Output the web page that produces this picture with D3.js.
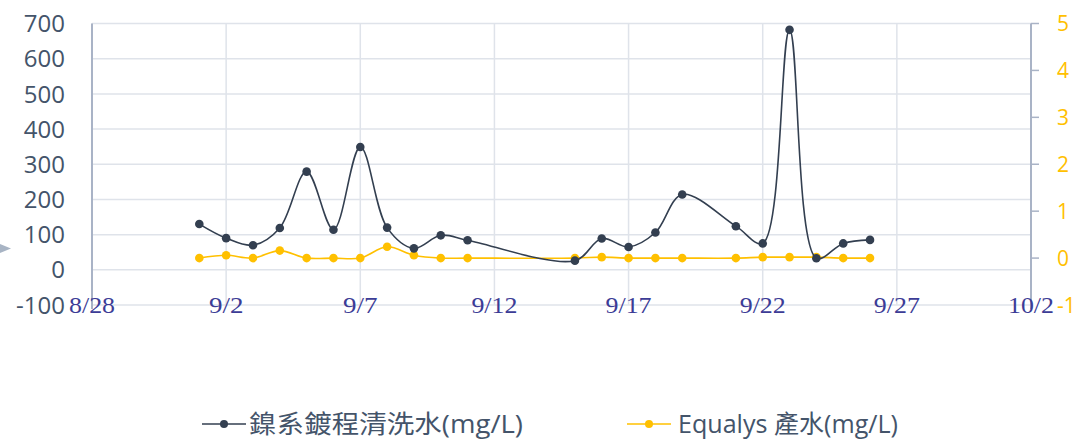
<!DOCTYPE html>
<html>
<head>
<meta charset="utf-8">
<script src="https://cdn.jsdelivr.net/npm/d3@7"></script>
<style>
  body { margin: 0; background: #fff; }
</style>
</head>
<body>
<div id="container"></div>
<script>
// dates (M/D), both series measured on the same days
const dates = ['9/1','9/2','9/3','9/4','9/5','9/6','9/7','9/8','9/9','9/10','9/11',
  '9/15','9/16','9/17','9/18','9/19','9/21','9/22','9/23','9/24','9/25','9/26']
const nickelRinse = [130, 90, 70, 119, 279, 114, 349, 120, 61, 98, 84,
  26, 89, 65, 106, 214, 124, 75, 682, 33, 75, 85]
const equalysOut = [0.0, 0.06, 0.0, 0.16, 0.0, 0.0, 0.0, 0.24, 0.06, 0.0, 0.0,
  0.0, 0.02, 0.0, 0.0, 0.0, 0.0, 0.02, 0.02, 0.02, 0.0, 0.0]

const xTickLabels = ['8/28','9/2','9/7','9/12','9/17','9/22','9/27','10/2']
const leftTicks = [-100, 0, 100, 200, 300, 400, 500, 600, 700]
const rightTicks = [-1, 0, 1, 2, 3, 4, 5]
const seriesNames = ['鎳系鍍程清洗水(mg/L)', 'Equalys 產水(mg/L)']

const width = 1081
const height = 441
const parse = s => d3.timeParse('%Y/%m/%d')('2020/' + s)

const x = d3.scaleTime()
  .domain([parse('8/28'), parse('10/2')])
  .range([92, 1031])
const yL = d3.scaleLinear().domain([-100, 700]).range([305, 23.5])
const yR = d3.scaleLinear().domain([-1, 5]).range([305, 23.5])

const svg = d3.select('#container')
  .append('svg')
  .attr('width', width)
  .attr('height', height)
  .attr('viewBox', [0, 0, width, height])

const gridColor = '#dfe3ea'
const axisColor = '#a9b3c6'
const textColor = '#44546a'
const darkColor = '#333f50'
const yellow = '#ffc000'
const sans = '"Open Sans", "Noto Sans CJK TC", sans-serif'

// horizontal grid
svg.append('g')
  .selectAll('line')
  .data(leftTicks)
  .join('line')
  .attr('x1', x.range()[0])
  .attr('x2', x.range()[1])
  .attr('y1', d => yL(d))
  .attr('y2', d => yL(d))
  .style('stroke', gridColor)
  .style('stroke-width', 1.5)

// vertical grid
const xTicks = xTickLabels.map(parse)
svg.append('g')
  .selectAll('line')
  .data(xTicks)
  .join('line')
  .attr('x1', d => x(d))
  .attr('x2', d => x(d))
  .attr('y1', yL(700))
  .attr('y2', yL(-100))
  .style('stroke', gridColor)
  .style('stroke-width', 1.5)

// left axis
svg.append('line')
  .attr('x1', x.range()[0]).attr('x2', x.range()[0])
  .attr('y1', yL(700)).attr('y2', yL(-100) + 4)
  .style('stroke', axisColor)
  .style('stroke-width', 2)

svg.append('g')
  .selectAll('text')
  .data(leftTicks)
  .join('text')
  .attr('x', 65)
  .attr('y', d => yL(d))
  .attr('dy', '0.36em')
  .attr('text-anchor', 'end')
  .style('font-family', sans)
  .style('font-size', '24px')
  .style('fill', textColor)
  .text(d => d)

// right axis
svg.append('line')
  .attr('x1', x.range()[1]).attr('x2', x.range()[1])
  .attr('y1', yR(5)).attr('y2', yR(-1) + 4)
  .style('stroke', axisColor)
  .style('stroke-width', 2)

svg.append('g')
  .selectAll('line')
  .data(rightTicks.filter(d => d > -1))
  .join('line')
  .attr('x1', x.range()[1])
  .attr('x2', x.range()[1] + 8)
  .attr('y1', d => yR(d))
  .attr('y2', d => yR(d))
  .style('stroke', axisColor)
  .style('stroke-width', 1.5)

svg.append('g')
  .selectAll('text')
  .data(rightTicks)
  .join('text')
  .attr('x', 1057)
  .attr('y', d => yR(d))
  .attr('dy', '0.36em')
  .style('font-family', sans)
  .style('font-size', '21px')
  .style('fill', yellow)
  .text(d => d)

// x labels
svg.append('g')
  .selectAll('text')
  .data(xTicks)
  .join('text')
  .attr('x', d => x(d))
  .attr('y', 313)
  .attr('text-anchor', 'middle')
  .attr('textLength', (d, i) => xTickLabels[i].length * 11.5)
  .attr('lengthAdjust', 'spacingAndGlyphs')
  .style('font-family', '"Liberation Serif", serif')
  .style('font-size', '23px')
  .style('fill', '#3c3c96')
  .text((d, i) => xTickLabels[i])

// small marker at the left edge
svg.append('path')
  .attr('d', 'M0,244 L11,248.5 L0,253 Z')
  .style('fill', '#a8b4c4')

// series
const pts = dates.map(parse)
const series = [
  { values: nickelRinse, y: yL, color: darkColor, width: 1.6 },
  { values: equalysOut, y: yR, color: yellow, width: 1.6 }
]

// yellow drawn first so dark sits above, like the reference
series.slice().reverse().forEach(s => {
  const line = d3.line()
    .x((d, i) => x(pts[i]))
    .y(d => s.y(d))
    .curve(d3.curveCatmullRom.alpha(0.5))
  svg.append('path')
    .datum(s.values)
    .attr('d', line)
    .style('fill', 'none')
    .style('stroke', s.color)
    .style('stroke-width', s.width)
  svg.append('g')
    .selectAll('circle')
    .data(s.values)
    .join('circle')
    .attr('cx', (d, i) => x(pts[i]))
    .attr('cy', d => s.y(d))
    .attr('r', 4.3)
    .style('fill', s.color)
})

// legend
const legend = [
  { name: seriesNames[0], color: darkColor, x0: 202, tx: 249, tw: 274 },
  { name: seriesNames[1], color: yellow, x0: 627, tx: 678, tw: 220 }
]
const lg = svg.append('g')
  .selectAll('g')
  .data(legend)
  .join('g')

lg.append('line')
  .attr('x1', d => d.x0)
  .attr('x2', d => d.x0 + 44)
  .attr('y1', 424).attr('y2', 424)
  .style('stroke', d => d.color)
  .style('stroke-width', 1.6)
lg.append('circle')
  .attr('cx', d => d.x0 + 22)
  .attr('cy', 424)
  .attr('r', 4)
  .style('fill', d => d.color)
lg.append('text')
  .attr('x', d => d.tx)
  .attr('y', 433)
  .attr('textLength', d => d.tw)
  .attr('lengthAdjust', 'spacingAndGlyphs')
  .style('font-family', sans)
  .style('font-size', '25px')
  .style('fill', textColor)
  .text(d => d.name)
</script>
</body>
</html>
